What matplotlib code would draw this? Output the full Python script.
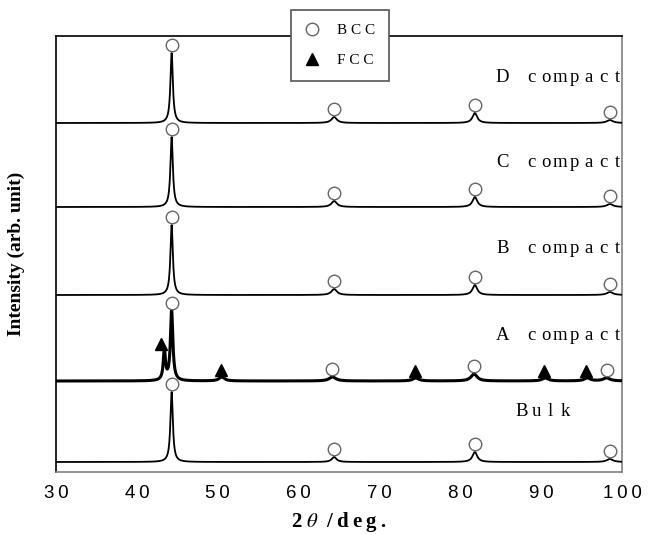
import numpy as np
import matplotlib
matplotlib.use('Agg')
import matplotlib.pyplot as plt
from matplotlib.lines import Line2D

plt.rcParams['mathtext.fontset'] = 'stix'

# XRD patterns, stacked bottom to top
names = ['Bulk', 'A compact', 'B compact', 'C compact', 'D compact']
offsets = [10, 91, 177, 265, 349]
line_widths = [1.3, 2.2, 1.3, 1.3, 1.3]

# peak positions (2theta), heights, half widths and phase of each reflection
bulk_pos = [44.3, 64.4, 81.8, 98.5]
bulk_h = [70, 5, 10, 3]
bulk_w = [0.18, 0.35, 0.35, 0.45]
bulk_phase = ['bcc', 'bcc', 'bcc', 'bcc']
bulk_mark = [44.3, 64.4, 81.8, 98.5]

a_pos = [43.4, 44.3, 50.5, 64.2, 74.5, 81.7, 90.5, 95.7, 98.1]
a_h = [30, 70, 4, 4, 3, 7, 3, 3, 3]
a_w = [0.16, 0.18, 0.4, 0.5, 0.45, 0.45, 0.45, 0.45, 0.5]
a_phase = ['fcc', 'bcc', 'fcc', 'bcc', 'fcc', 'bcc', 'fcc', 'fcc', 'bcc']
a_mark = [43.0, 44.3, 50.4, 64.1, 74.4, 81.7, 90.4, 95.5, 98.1]

b_pos = [44.3, 64.4, 81.8, 98.5]
b_h = [70, 6, 10, 3]
b_w = [0.18, 0.4, 0.35, 0.45]
b_phase = ['bcc', 'bcc', 'bcc', 'bcc']
b_mark = [44.3, 64.4, 81.8, 98.5]

c_pos = [44.3, 64.4, 81.8, 98.5]
c_h = [70, 6, 10, 3]
c_w = [0.18, 0.4, 0.35, 0.45]
c_phase = ['bcc', 'bcc', 'bcc', 'bcc']
c_mark = [44.3, 64.4, 81.8, 98.5]

d_pos = [44.3, 64.4, 81.8, 98.5]
d_h = [70, 6, 10, 3]
d_w = [0.18, 0.4, 0.35, 0.45]
d_phase = ['bcc', 'bcc', 'bcc', 'bcc']
d_mark = [44.3, 64.4, 81.8, 98.5]

patterns = [
    (bulk_pos, bulk_h, bulk_w, bulk_phase, bulk_mark),
    (a_pos, a_h, a_w, a_phase, a_mark),
    (b_pos, b_h, b_w, b_phase, b_mark),
    (c_pos, c_h, c_w, c_phase, c_mark),
    (d_pos, d_h, d_w, d_phase, d_mark),
]

# where the sample names sit (2theta of first letter, height above baseline)
label_x = [86.7, 84.3, 84.3, 84.3, 84.3]
label_dy = [51, 46, 46, 44, 45]

tick_vals = [30, 40, 50, 60, 70, 80, 90, 100]


def profile(tt, pos, h, w):
    y = np.zeros_like(tt)
    for p, a, g in zip(pos, h, w):
        y += a / (1.0 + ((tt - p) / g) ** 2)
    return y


def spaced_text(ax, x, y, s, pitch=10.4, **kw):
    # one glyph per fixed-width cell, like a typewriter font
    for i, ch in enumerate(s):
        if ch == ' ':
            continue
        ax.annotate(ch, (x, y), xytext=((i + 0.5) * pitch, 0), textcoords='offset points',
                    ha='center', va='center', **kw)


fig = plt.figure(figsize=(6.57, 5.34), dpi=100)
ax = fig.add_axes([56 / 657, 62 / 534, 566 / 657, 436 / 534])

tt = np.linspace(30, 100, 7001)
for (pos, h, w, phase, mark), base, lw, name, lx, ldy in zip(patterns, offsets, line_widths,
                                                           names, label_x, label_dy):
    ax.plot(tt, base + profile(tt, pos, h, w), color='black', lw=lw, zorder=3)
    for mx, a, ph in zip(mark, h, phase):
        if ph == 'bcc':
            ax.plot(mx, base + a + 8, marker='o', ms=9, mfc='white', mec='#666666',
                    mew=1.0, zorder=4)
        else:
            ax.plot(mx, base + a + 7, marker='^', ms=8, color='black', zorder=4)
    spaced_text(ax, lx, base + ldy, name, family='Liberation Serif', fontsize=13.5)

ax.set_xlim(30, 100)
ax.set_ylim(0, 436)
ax.set_xticks(tick_vals)
ax.set_xticklabels(['\u2009'.join(str(v)) for v in tick_vals],
                   family='Liberation Sans', fontsize=13.5)
ax.tick_params(axis='x', length=0, pad=9)
ax.set_yticks([])
for side in ['top', 'left']:
    ax.spines[side].set_color('black')
for side in ['bottom', 'right']:
    ax.spines[side].set_color('#808080')
for sp in ax.spines.values():
    sp.set_linewidth(1.2)

ax.set_xlabel('2$\\ \\theta\\ \\ $/\u2009d\u2009e\u2009g\u2009.', family='Liberation Serif',
              fontweight='bold', fontsize=15, labelpad=6)
ax.set_ylabel('Intensity (arb. unit)', family='Liberation Serif', fontweight='bold',
              fontsize=14, labelpad=22)

handles = [
    Line2D([], [], ls='none', marker='o', ms=9, mfc='white', mec='#666666', mew=1.0),
    Line2D([], [], ls='none', marker='^', ms=8, color='black'),
]
leg = fig.legend(handles, ['B C C', 'F C C'], loc='upper left',
                 bbox_to_anchor=(291 / 657, 1 - 10 / 534),
                 prop={'family': 'Liberation Serif', 'size': 11},
                 frameon=True, fancybox=False, edgecolor='#555555', framealpha=1,
                 borderpad=0.9, labelspacing=1.05, handlelength=1.0,
                 handletextpad=1.1, borderaxespad=0)
leg.get_frame().set_linewidth(1.2)
leg.set_zorder(10)

fig.savefig('out.png', dpi=100)
